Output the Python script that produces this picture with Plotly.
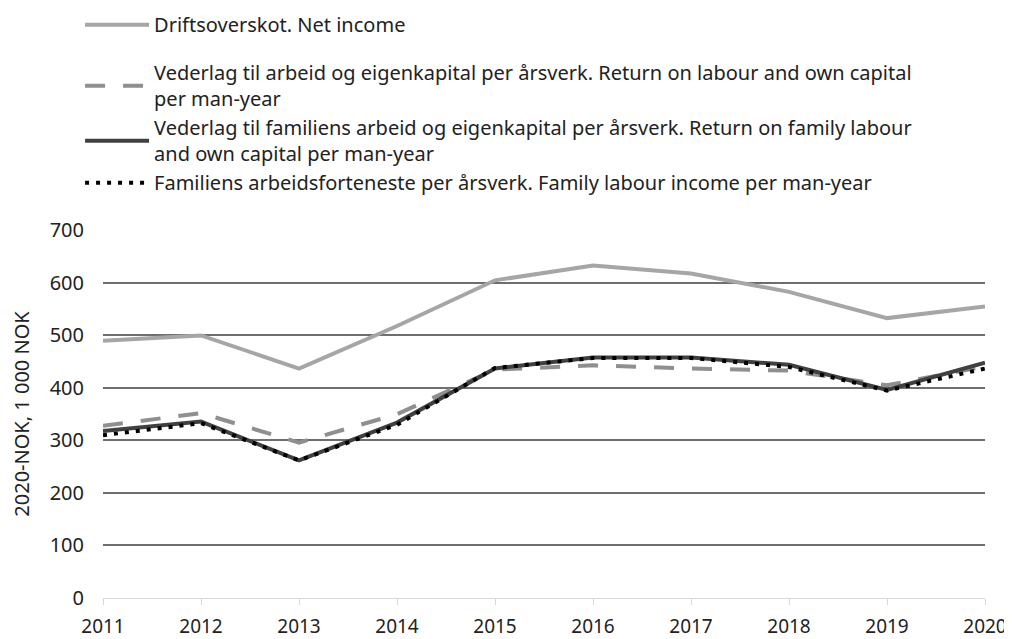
import plotly.graph_objects as go

years = [2011, 2012, 2013, 2014, 2015, 2016, 2017, 2018, 2019, 2020]
net_income = [490, 500, 437, 518, 605, 633, 618, 583, 533, 555]
return_labour_capital = [328, 352, 296, 350, 435, 443, 437, 433, 405, 441]
return_family = [318, 336, 262, 334, 437, 458, 458, 444, 396, 448]
family_labour_income = [310, 333, 262, 330, 438, 457, 457, 440, 395, 437]

names = [
    "Driftsoverskot. Net income",
    "Vederlag til arbeid og eigenkapital per årsverk. Return on labour and own capital<br>per man-year",
    "Vederlag til familiens arbeid og eigenkapital per årsverk. Return on family labour<br>and own capital per man-year",
    "Familiens arbeidsforteneste per årsverk. Family labour income per man-year",
]

fig = go.Figure()
fig.add_trace(go.Scatter(x=years, y=net_income, mode="lines", name=names[0],
                         line=dict(color="#a6a6a6", width=4), legendgroup="a"))
fig.add_trace(go.Scatter(x=years, y=return_labour_capital, mode="lines", name=names[1],
                         line=dict(color="#8f8f8f", width=4, dash="20px,18px"), legendgroup="b"))
fig.add_trace(go.Scatter(x=years, y=return_family, mode="lines", name=names[2],
                         line=dict(color="#404040", width=4), legendgroup="b"))
fig.add_trace(go.Scatter(x=years, y=family_labour_income, mode="lines", name=names[3],
                         line=dict(color="#000000", width=4, dash="4px,7px"), legendgroup="b"))

fig.update_layout(
    width=1004, height=631,
    margin=dict(l=95, r=27, t=222, b=41, autoexpand=False),
    paper_bgcolor="white", plot_bgcolor="white",
    font=dict(family="Noto Sans", size=20, color="#222222"),
    legend=dict(x=-0.026, y=1.611, xanchor="left", yanchor="top",
                traceorder="grouped", tracegroupgap=19,
                font=dict(size=20, color="#222222"),
                itemwidth=64, bgcolor="rgba(0,0,0,0)"),
    showlegend=True,
)
fig.update_xaxes(range=[2011, 2020], tickvals=years, ticktext=[str(y) for y in years],
                 showgrid=False, zeroline=False, showline=True, linecolor="#d9d9d9",
                 linewidth=1, ticks="outside", ticklen=6, tickcolor="#d9d9d9",
                 ticklabelstandoff=5, automargin=False,
                 tickfont=dict(size=19, color="#222222"))
fig.update_yaxes(range=[0, 700.8], tickvals=[0, 100, 200, 300, 400, 500, 600, 700],
                 showgrid=True, gridcolor="#6e6e6e",
                 gridwidth=1.5, zeroline=False, showline=False, automargin=False,
                 tickfont=dict(size=20, color="#222222"), ticklabelstandoff=18,
                 title=dict(text="2020-NOK, 1 000 NOK", font=dict(size=20, color="#222222"), standoff=16))

fig.write_html("out.html")
